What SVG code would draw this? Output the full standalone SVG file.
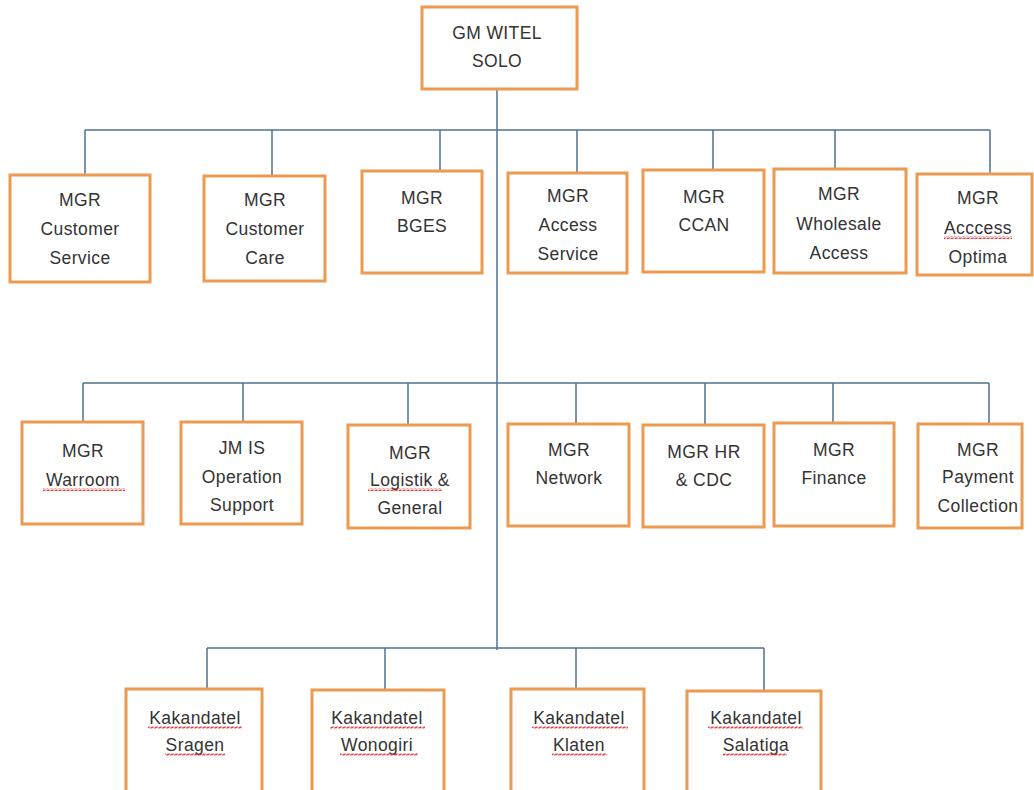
<svg xmlns="http://www.w3.org/2000/svg" width="1034" height="790" viewBox="0 0 1034 790">
<style>
.box{fill:#fff;stroke:#EB9A50;stroke-width:3}
.ln{stroke:#4F7390;stroke-width:1.5;fill:none}
text{font-family:"Liberation Sans",Arial,sans-serif;font-size:17.5px;fill:#333;text-anchor:middle;letter-spacing:0.4px}
.sq{fill:url(#squig)}
</style>
<defs>
<pattern id="squig" width="4" height="3" patternUnits="userSpaceOnUse">
<path d="M0,2.5 L1,0.5 L3,2.5 L4,0.5" stroke="#E03030" stroke-width="0.9" fill="none"/>
</pattern>
</defs>
<rect width="1034" height="790" fill="#fff"/>
<g id="connectors">
<path class="ln" d="M497,89 V650"/>
<path class="ln" d="M85,130 H990 M85,130 V175 M272,130 V176 M440,130 V171 M577,130 V173 M713,130 V170 M835,130 V169 M990,130 V174"/>
<path class="ln" d="M83,383 H989 M83,383 V422 M243,383 V422 M408,383 V425 M576,383 V424 M705,383 V425 M833,383 V423 M989,383 V424"/>
<path class="ln" d="M207,648 H764 M207,648 V689 M385,648 V690 M576,648 V689 M764,648 V691"/>
</g>
<g id="gm"><rect class="box" x="422" y="7" width="155" height="82"/><text x="497" y="39">GM WITEL</text><text x="497" y="67">SOLO</text></g>
<g id="cs"><rect class="box" x="10" y="175" width="140" height="107"/><text x="80" y="206">MGR</text><text x="80" y="235">Customer</text><text x="80" y="264">Service</text></g>
<g id="cc"><rect class="box" x="204" y="176" width="121" height="105"/><text x="265" y="206">MGR</text><text x="265" y="235">Customer</text><text x="265" y="264">Care</text></g>
<g id="bges"><rect class="box" x="362" y="171" width="120" height="102"/><text x="422" y="204">MGR</text><text x="422" y="232">BGES</text></g>
<g id="as"><rect class="box" x="508" y="173" width="119" height="100"/><text x="568" y="202">MGR</text><text x="568" y="231">Access</text><text x="568" y="260">Service</text></g>
<g id="ccan"><rect class="box" x="643" y="170" width="121" height="102"/><text x="704" y="203">MGR</text><text x="704" y="231">CCAN</text></g>
<g id="wa"><rect class="box" x="774" y="169" width="132" height="104"/><text x="839" y="200">MGR</text><text x="839" y="230">Wholesale</text><text x="839" y="259">Access</text></g>
<g id="ao"><rect class="box" x="917" y="174" width="115" height="101"/><text x="978" y="204">MGR</text><text x="978" y="234">Acccess</text><text x="978" y="263">Optima</text><rect class="sq" x="944" y="236" width="68" height="3"/></g>
<g id="war"><rect class="box" x="22" y="422" width="121" height="102"/><text x="83" y="457">MGR</text><text x="83" y="486">Warroom</text><rect class="sq" x="43" y="488" width="82" height="3"/></g>
<g id="jm"><rect class="box" x="181" y="422" width="121" height="102"/><text x="242" y="454">JM IS</text><text x="242" y="483">Operation</text><text x="242" y="511">Support</text></g>
<g id="log"><rect class="box" x="348" y="425" width="122" height="103"/><text x="410" y="459">MGR</text><text x="410" y="486">Logistik &amp;</text><text x="410" y="514">General</text><rect class="sq" x="368" y="488" width="74" height="3"/></g>
<g id="net"><rect class="box" x="508" y="424" width="121" height="102"/><text x="569" y="456">MGR</text><text x="569" y="484">Network</text></g>
<g id="hr"><rect class="box" x="643" y="425" width="121" height="102"/><text x="704" y="458">MGR HR</text><text x="704" y="486">&amp; CDC</text></g>
<g id="fin"><rect class="box" x="774" y="423" width="120" height="103"/><text x="834" y="456">MGR</text><text x="834" y="484">Finance</text></g>
<g id="pay"><rect class="box" x="918" y="424" width="104" height="104"/><text x="978" y="456">MGR</text><text x="978" y="483">Payment</text><text x="978" y="512">Collection</text></g>
<g id="sragen"><rect class="box" x="126" y="689" width="136" height="110"/><text x="195" y="724">Kakandatel</text><text x="195" y="751">Sragen</text><rect class="sq" x="148" y="726" width="94" height="3"/><rect class="sq" x="165" y="753" width="60" height="3"/></g>
<g id="wonogiri"><rect class="box" x="312" y="690" width="132" height="110"/><text x="377" y="724">Kakandatel</text><text x="377" y="751">Wonogiri</text><rect class="sq" x="330" y="726" width="95" height="3"/><rect class="sq" x="340" y="753" width="78" height="3"/></g>
<g id="klaten"><rect class="box" x="511" y="689" width="133" height="110"/><text x="579" y="724">Kakandatel</text><text x="579" y="751">Klaten</text><rect class="sq" x="532" y="726" width="96" height="3"/><rect class="sq" x="552" y="753" width="55" height="3"/></g>
<g id="salatiga"><rect class="box" x="687" y="691" width="134" height="110"/><text x="756" y="724">Kakandatel</text><text x="756" y="751">Salatiga</text><rect class="sq" x="708" y="726" width="95" height="3"/><rect class="sq" x="723" y="753" width="64" height="3"/></g>
</svg>
